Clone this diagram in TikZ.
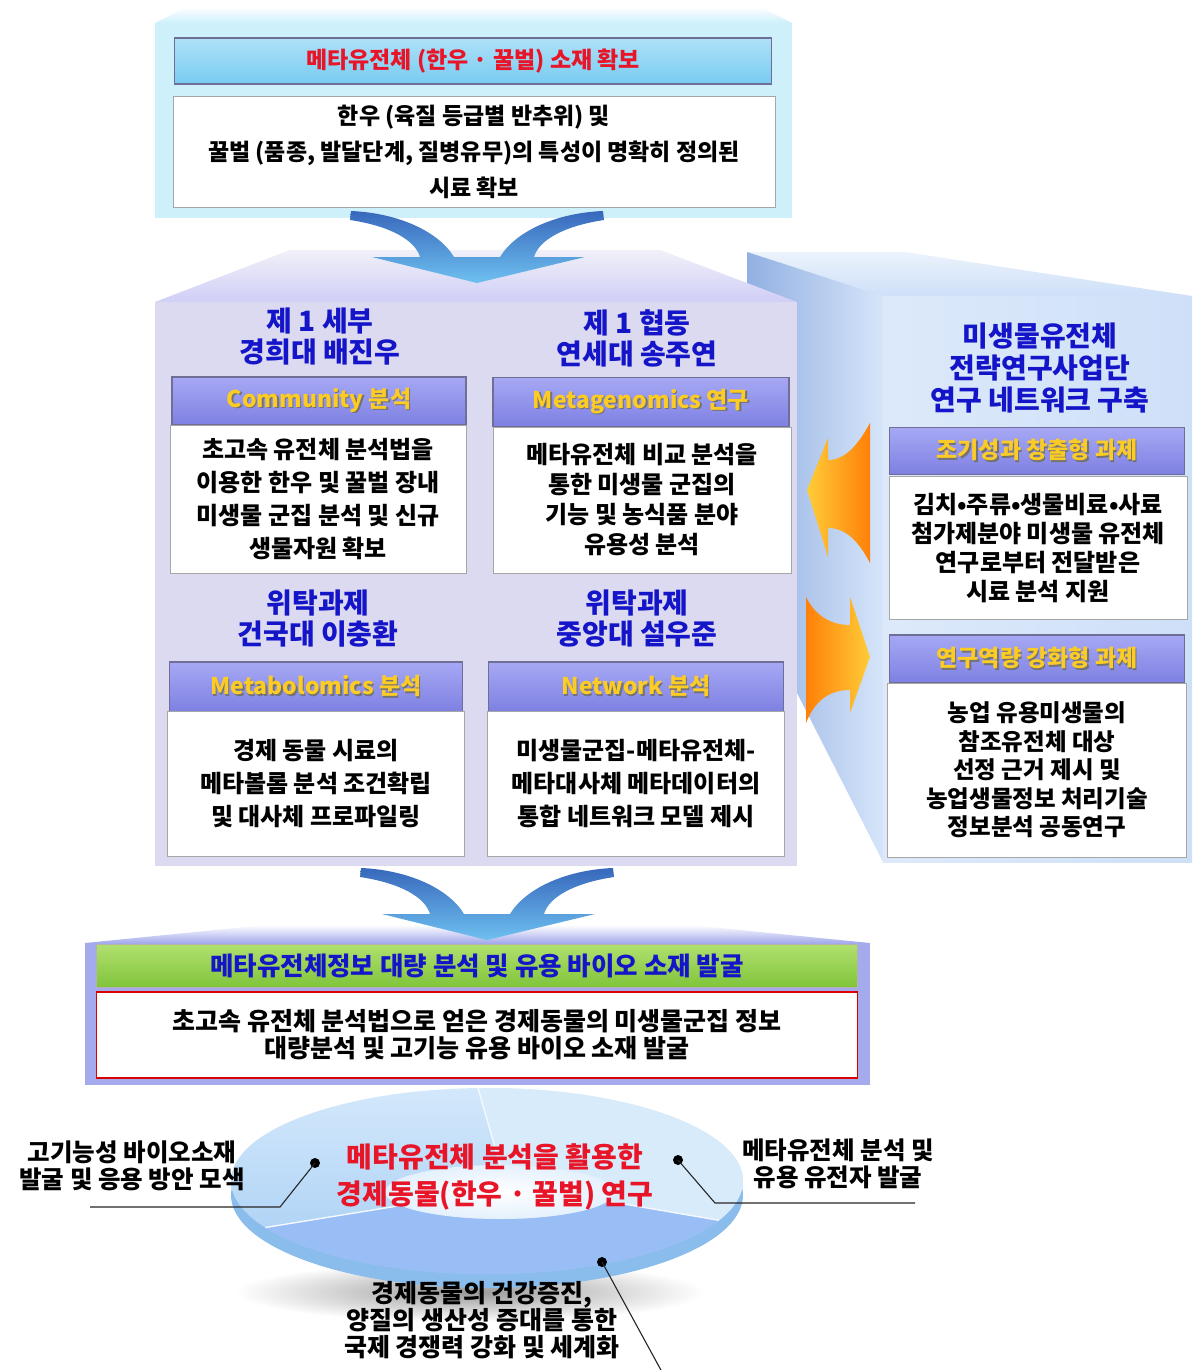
\documentclass[tikz,border=0pt]{standalone}
\usepackage{fontspec}
\setmainfont{Noto Sans CJK KR}
\usetikzlibrary{calc}
\definecolor{hblue}{RGB}{20,20,200}
\definecolor{tred}{RGB}{232,20,40}
\definecolor{byellow}{RGB}{252,204,36}
\definecolor{barA}{RGB}{166,168,244}
\definecolor{barB}{RGB}{126,128,226}
\definecolor{baredge}{RGB}{110,110,150}
\definecolor{cyanpanel}{RGB}{206,240,251}
\definecolor{cyanbar}{RGB}{120,204,242}
\definecolor{lav}{RGB}{220,218,240}
\definecolor{rfront}{RGB}{206,224,248}
\definecolor{rside}{RGB}{146,176,226}
\definecolor{framec}{RGB}{164,170,236}
\definecolor{greenA}{RGB}{176,224,110}
\definecolor{greenB}{RGB}{128,196,58}
\definecolor{diskA}{RGB}{200,226,250}
\definecolor{diskB}{RGB}{166,206,244}
\definecolor{diskrim}{RGB}{138,188,236}
\definecolor{orA}{RGB}{255,204,56}
\definecolor{orB}{RGB}{255,128,8}
\definecolor{arrA}{RGB}{56,104,188}
\definecolor{arrB}{RGB}{110,192,240}
\newcommand\shtxt[1]{\makebox[0pt][l]{\hspace{1.4pt}\raisebox{-1.4pt}{\textcolor{black!55}{#1}}}#1}
\newcommand\funnelpath{(350,220) .. controls (390,226) and (415,240) .. (420,257) -- (372,257) -- (477,283) -- (585,257) -- (534,257) .. controls (539,240) and (564,226) .. (604,220) -- (603,211) .. controls (555,213) and (515,232) .. (500,257) -- (454,257) .. controls (439,232) and (399,213) .. (351,211) -- cycle}
\begin{document}
\begin{tikzpicture}[x=1pt,y=-1pt,
 bar/.style={draw=baredge, line width=1.4pt, top color=barA, bottom color=barB, text=byellow, font=\bfseries\fontsize{23}{26}\selectfont, inner sep=0pt},
 wbox/.style={draw=gray!70, line width=1pt, fill=white, align=center, inner sep=0pt, font=\bfseries\fontsize{24}{33}\selectfont},
 head/.style={align=center, text=hblue, font=\bfseries\fontsize{28}{31}\selectfont},
 call/.style={align=center, font=\bfseries\fontsize{24.5}{27}\selectfont},
 dot/.style={circle, fill=black, inner sep=0pt, minimum size=10pt},
 cline/.style={line width=1.1pt, draw=black!85},
 seg/.style={draw=white!80!diskA, line width=1.4pt}]
\path[use as bounding box] (0,0) rectangle (1192,1370);
\fill[white] (0,0) rectangle (1192,1370);

% ---------- top panel ----------
\shade[top color=white, bottom color=cyanpanel] (155,23) -- (187,7) -- (760,7) -- (792,23) -- cycle;
\fill[cyanpanel] (155,23) rectangle (792,218);
\node[bar, minimum width=597pt, minimum height=46pt, top color=cyanbar!60!white, bottom color=cyanbar, text=tred] (tb) at (473,61) {메타유전체 (한우 · 꿀벌) 소재 확보};
\node[wbox, minimum width=602pt, minimum height=111pt, font=\bfseries\fontsize{23}{36}\selectfont] (topbox) at (474,152) {한우 (육질 등급별 반추위) 및\\꿀벌 (품종, 발달단계, 질병유무)의 특성이 명확히 정의된\\시료 확보};

% ---------- right panel ----------
\shade[top color=rfront!40!white, bottom color=rfront] (747,252) -- (905,252) -- (1192,296) -- (883,296) -- cycle;
\shade[left color=rside, right color=rfront!85!white] (747,252) -- (883,296) -- (883,862) -- (797,693) -- (747,693) -- cycle;
\shade[left color=rfront!70!white, right color=rfront] (883,296) rectangle (1192,862);

% ---------- lavender panel ----------
\shade[top color=lav!40!white, bottom color=lav!85!blue!70!white] (155,302) -- (290,250) -- (660,250) -- (797,302) -- cycle;
\fill[lav] (155,302) rectangle (797,866);

% ---------- orange arrows ----------
\shade[left color=orA, right color=orB] (870,423) -- (870,563) .. controls (858,540) and (845,528) .. (828,528) -- (828,557) -- (807,490) -- (828,438) -- (828,460) .. controls (845,460) and (858,445) .. (870,423) -- cycle;
\shade[left color=orB, right color=orA] (806,597) .. controls (815,615) and (830,625) .. (850,625) -- (850,597) -- (870,657) -- (850,713) -- (850,690) .. controls (830,690) and (815,700) .. (806,723) -- cycle;

% ---------- blue arrow 1 ----------
\shade[top color=arrA, bottom color=arrB] \funnelpath;

% ---------- middle panel content ----------
\node[head] (h1) at (320,337) {제 1 세부\\경희대 배진우};
\node[head] (h2) at (637,338) {제 1 협동\\연세대 송주연};
\node[bar, minimum width=294pt, minimum height=48pt] (b1) at (319,401) {\shtxt{Community 분석}};
\node[wbox, minimum width=296pt, minimum height=148pt] (x1) at (318,499) {초고속 유전체 분석법을\\이용한 한우 및 꿀벌 장내\\미생물 군집 분석 및 신규\\생물자원 확보};
\node[bar, minimum width=296pt, minimum height=49pt] (b2) at (641,402) {\shtxt{Metagenomics 연구}};
\node[wbox, minimum width=298pt, minimum height=146pt, font=\bfseries\fontsize{24}{30}\selectfont] (x2) at (642,500) {메타유전체 비교 분석을\\통한 미생물 군집의\\기능 및 농식품 분야\\유용성 분석};
\node[head] (h3) at (318,619) {위탁과제\\건국대 이충환};
\node[head] (h4) at (637,619) {위탁과제\\중앙대 설우준};
\node[bar, minimum width=293pt, minimum height=50pt] (b3) at (316,687) {\shtxt{Metabolomics 분석}};
\node[wbox, minimum width=297pt, minimum height=145pt] (x3) at (316,784) {경제 동물 시료의\\메타볼롬 분석 조건확립\\및 대사체 프로파일링};
\node[bar, minimum width=295pt, minimum height=50pt] (b4) at (636,687) {\shtxt{Network 분석}};
\node[wbox, minimum width=297pt, minimum height=145pt] (x4) at (636,784) {미생물군집-메타유전체-\\메타대사체 메타데이터의\\통합 네트워크 모델 제시};

% ---------- right panel content ----------
\node[head, font=\bfseries\fontsize{28}{32}\selectfont] (h5) at (1040,368) {미생물유전체\\전략연구사업단\\연구 네트워크 구축};
\node[bar, minimum width=295pt, minimum height=47pt] (b5) at (1037,451) {\shtxt{조기성과 창출형 과제}};
\node[wbox, minimum width=298pt, minimum height=143pt, font=\bfseries\fontsize{24}{29}\selectfont] (x5) at (1038,548) {김치•주류•생물비료•사료\\첨가제분야 미생물 유전체\\연구로부터 전달받은\\시료 분석 지원};
\node[bar, minimum width=295pt, minimum height=48pt] (b6) at (1037,659) {\shtxt{연구역량 강화형 과제}};
\node[wbox, minimum width=299pt, minimum height=174pt, font=\bfseries\fontsize{23.5}{28.5}\selectfont] (x6) at (1037,770) {농업 유용미생물의\\참조유전체 대상\\선정 근거 제시 및\\농업생물정보 처리기술\\정보분석 공동연구};

% ---------- bottom panel ----------
\shade[top color=white, bottom color=framec] (85,943) -- (265,925) -- (690,925) -- (870,943) -- cycle;
\fill[framec] (85,943) rectangle (870,1085);
\shade[top color=arrA, bottom color=arrB] [shift={(10,657)}] \funnelpath;
\node[draw=gray!60, line width=1.4pt, top color=greenA, bottom color=greenB, minimum width=761pt, minimum height=43pt, inner sep=0pt, text=hblue, font=\bfseries\fontsize{25.5}{28}\selectfont] (gbar) at (477,966) {메타유전체정보 대량 분석 및 유용 바이오 소재 발굴};
\node[draw=red!85!black, line width=1.3pt, fill=white, minimum width=761pt, minimum height=86pt, inner sep=0pt, align=center, font=\bfseries\fontsize{25}{27}\selectfont] (rbox) at (477,1035) {초고속 유전체 분석법으로 얻은 경제동물의 미생물군집 정보\\대량분석 및 고기능 유용 바이오 소재 발굴};

% ---------- disk ----------
\shade[inner color=black!40, outer color=white] (470,1292) ellipse (235 and 30);
\coordinate (dc) at (487,1181);
\coordinate (hc) at (500,1192);
\fill[diskrim] ($(dc)+(0,14)$) ellipse (256 and 93);
\shade[top color=diskA!80!white, bottom color=diskB] (dc) ellipse (256 and 93);
\fill[diskB!92!blue] ($(hc)+(150:115 and 27)$) -- ($(dc)+(150:256 and 93)$) arc[start angle=150, end angle=25, x radius=256, y radius=93] -- ($(hc)+(20:115 and 27)$) arc[start angle=20, end angle=150, x radius=115, y radius=27] -- cycle;
\fill[diskA!70!white] ($(hc)+(-90:115 and 27)$) -- ($(dc)+(-92:256 and 93)$) arc[start angle=-92, end angle=25, x radius=256, y radius=93] -- ($(hc)+(20:115 and 27)$) arc[start angle=20, end angle=-90, x radius=115, y radius=27] -- cycle;
\shade[inner color=white, outer color=diskA!50!white] (hc) ellipse (115 and 27);
\draw[seg] ($(hc)+(-90:115 and 27)$) -- ($(dc)+(-92:256 and 93)$);
\draw[seg] ($(hc)+(150:115 and 27)$) -- ($(dc)+(150:256 and 93)$);
\draw[seg] ($(hc)+(20:115 and 27)$) -- ($(dc)+(25:256 and 93)$);
\node[align=center, text=tred, font=\bfseries\fontsize{28}{37}\selectfont] (dtext) at (495,1177) {메타유전체 분석을 활용한\\경제동물(한우 · 꿀벌) 연구};

% ---------- callouts ----------
\node[call] (cl) at (132,1166) {고기능성 바이오소재\\발굴 및 응용 방안 모색};
\node[call] (cr) at (838,1164) {메타유전체 분석 및\\유용 유전자 발굴};
\node[call, font=\bfseries\fontsize{25}{27}\selectfont] (cb) at (482,1320) {경제동물의 건강증진,\\양질의 생산성 증대를 통한\\국제 경쟁력 강화 및 세계화};
\node[dot] (dl) at (315,1163) {};
\node[dot] (dr) at (678,1160) {};
\node[dot] (db) at (602,1262) {};
\coordinate (kl) at (280,1207);
\coordinate (el) at (90,1207);
\coordinate (kr) at (715,1203);
\coordinate (er) at (915,1203);
\coordinate (eb) at (662,1372);
\draw[cline] (dl.center) -- (kl) -- (el);
\draw[cline] (dr.center) -- (kr) -- (er);
\draw[cline] (db.center) -- (eb);
\end{tikzpicture}
\end{document}
